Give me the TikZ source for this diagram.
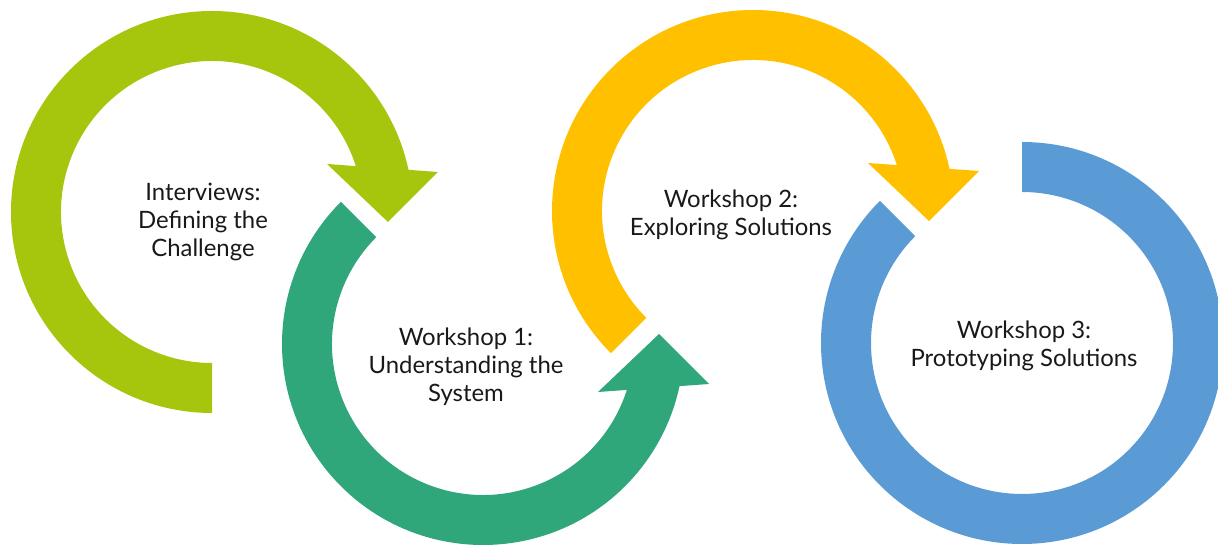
\documentclass[tikz,border=0pt]{standalone}
\usepackage{fontspec}
\setmainfont{Lato}
\usetikzlibrary{calc}
\definecolor{limegreen}{RGB}{166,198,14}
\definecolor{seagreen}{RGB}{48,167,123}
\definecolor{amber}{RGB}{255,192,0}
\definecolor{skyblue}{RGB}{91,155,213}
\begin{document}
\begin{tikzpicture}[x=0.025cm,y=0.025cm,
  stagetext/.style={font=\fontsize{17}{20}\selectfont,align=center,inner sep=0pt,text=black!90}]
\useasboundingbox (0,0) rectangle (1218,545);
\coordinate (G) at (212,333);
\coordinate (T) at (483,201);
\coordinate (Y) at (753,334);
\coordinate (B) at (1022,202);
% interviews
\fill[limegreen] ($(G)+(270:151)$) -- ($(G)+(270:201)$) arc[start angle=270,end angle=12.1,radius=201]
  -- ($(G)+(226,40)$) -- ($(G)+(176,-10)$) -- ($(G)+(115,48)$)
  -- ($(G)+(17.7:151)$) arc[start angle=17.7,end angle=270,radius=151] -- cycle;
% workshop 1
\fill[seagreen] ($(T)+(135:151)$) -- ($(T)+(135:201)$) arc[start angle=135,end angle=347.9,radius=201]
  -- ($(T)+(226,-40)$) -- ($(T)+(176,10)$) -- ($(T)+(115,-48)$)
  -- ($(T)+(342.3:151)$) arc[start angle=342.3,end angle=135,radius=151] -- cycle;
% workshop 2
\fill[amber] ($(Y)+(225:151)$) -- ($(Y)+(225:201)$) arc[start angle=225,end angle=12.1,radius=201]
  -- ($(Y)+(226,40)$) -- ($(Y)+(176,-10)$) -- ($(Y)+(115,48)$)
  -- ($(Y)+(17.7:151)$) arc[start angle=17.7,end angle=225,radius=151] -- cycle;
% workshop 3
\fill[skyblue] ($(B)+(90:151)$) -- ($(B)+(90:201)$) arc[start angle=90,end angle=-225,radius=201]
  -- ($(B)+(135:151)$) arc[start angle=-225,end angle=90,radius=151] -- cycle;
\node[stagetext] (interviews) at (203,323) {Interviews:\\Defining the\\Challenge};
\node[stagetext] (ws1) at (466,178) {Workshop 1:\\Understanding the\\System};
\node[stagetext] (ws2) at (731,330) {Workshop 2:\\Exploring Solutions};
\node[stagetext] (ws3) at (1024,199) {Workshop 3:\\Prototyping Solutions};
\end{tikzpicture}
\end{document}
